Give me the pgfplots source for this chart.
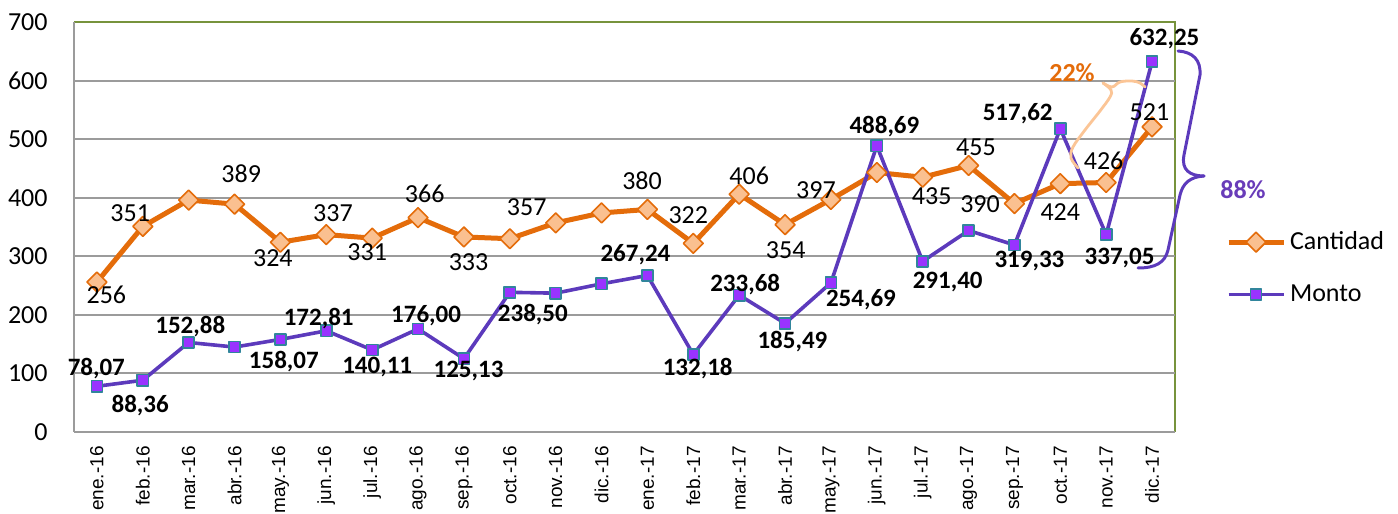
\documentclass[border=0pt]{standalone}
\usepackage{pgfplots}
\pgfplotsset{compat=1.18}
\usepackage{pgfplotstable}
\usepackage{fontspec}
\setmainfont{Carlito}
\newfontfamily\xfont{Liberation Sans}
\definecolor{corange}{HTML}{E46C0A}
\definecolor{clight}{HTML}{FAC090}
\definecolor{cbrace}{HTML}{FBC596}
\definecolor{cpurple}{RGB}{92,58,188}
\definecolor{cmfill}{HTML}{9933FF}
\definecolor{cteal}{HTML}{31859C}
\definecolor{cgrid}{RGB}{155,155,155}
\definecolor{cgreen}{HTML}{77933C}
\definecolor{cpct}{RGB}{105,60,185}

\pgfplotstableread{
x y lab dx dy
0 256 256 4.7 -6.5
1 351 351 -6.3 6.5
2 396 {} 0 0
3 389 389 3.3 15
4 324 324 -3.8 -7.8
5 337 337 3.3 10.8
6 331 331 -2.5 -7
7 366 366 3.3 11.8
8 333 333 2.3 -12.8
9 330 {} 0 0
10 357 357 -14.5 7.8
11 374 {} 0 0
12 380 380 -2.7 14.2
13 322 322 -2.5 14.2
14 406 406 5 9.2
15 354 354 0.3 -12.7
16 397 397 -7.5 4.7
17 443 {} 0 0
18 435 435 4.5 -9.7
19 455 455 3.7 9.2
20 390 390 -17.2 -0.3
21 424 424 0 -14.2
22 426 426 -1.3 10.8
23 521 521 -1.3 7.5
}\cantidad

\pgfplotstableread{
x y lab dx dy
0 78.07 78,07 -0.3 8.7
1 88.36 88,36 -1.3 -12.8
2 152.88 152,88 0.8 7.8
3 145 {} 0 0
4 158.07 158,07 1.7 -11.2
5 172.81 172,81 -3.8 6.2
6 140.11 140,11 2.5 -8.3
7 176.00 176,00 4 6.5
8 125.13 125,13 2.3 -6.3
9 238.50 238,50 11.5 -11
10 237 {} 0 0
11 253 {} 0 0
12 267.24 267,24 -6 10.3
13 132.18 132,18 2.2 -7
14 233.68 233,68 3 5.5
15 185.49 185,49 3.7 -9.3
16 254.69 254,69 15 -8.3
17 488.69 488,69 3.8 9.7
18 291.40 291,40 12.5 -10.5
19 344 {} 0 0
20 319.33 319,33 7.5 -8
21 517.62 517,62 -21.3 7.5
22 337.05 337,05 6.7 -11.7
23 632.25 632,25 6.2 11.5
}\monto

\begin{document}
\begin{tikzpicture}
\begin{scope}[x=0.5pt,y=-0.5pt,shift={(-37pt,216pt)}]
\path[use as bounding box] (0,0) rectangle (1398,512);
\draw[cgreen, line width=0.9pt] (74,22) -- (1175,22) -- (1175,432);
\end{scope}
\begin{axis}[
  at={(0,0)}, anchor=south west,
  scale only axis, width=550.5pt, height=205pt,
  xmin=-0.5, xmax=23.5, ymin=0, ymax=700,
  axis x line*=bottom, axis y line*=left,
  axis line style={-, draw=cgrid, line width=1pt},
  ytick={0,100,...,600}, extra y ticks={700}, extra y tick style={grid=none},
  ymajorgrids, grid style={draw=cgrid, line width=1pt},
  major tick length=0pt,
  xtick={0,...,23},
  xticklabels={ene.-16,feb.-16,mar.-16,abr.-16,may.-16,jun.-16,jul.-16,ago.-16,sep.-16,oct.-16,nov.-16,dic.-16,ene.-17,feb.-17,mar.-17,abr.-17,may.-17,jun.-17,jul.-17,ago.-17,sep.-17,oct.-17,nov.-17,dic.-17},
  xticklabel style={font=\xfont\fontsize{9.5}{11}\selectfont, yshift=-7pt, rotate=90, anchor=east, inner sep=0pt},
  yticklabel style={font=\fontsize{13}{15}\selectfont, anchor=east, inner sep=0pt, xshift=-13pt},
  /pgf/number format/assume math mode=true,
  clip=false,
  legend cell align=left,
  legend style={at={(axis description cs:1.046,0.40)}, anchor=west, draw=none, fill=none, inner sep=0pt, row sep=12pt, font=\fontsize{13}{15}\selectfont, nodes={inner sep=2pt}},
  legend image code/.code={\draw[mark repeat=2,mark phase=2,#1] plot coordinates {(0pt,0pt) (13.75pt,0pt) (27.5pt,0pt)};},
]
\addplot[color=corange, line width=2.5pt, line join=round,
  mark=square*, mark size=3.5pt, mark options={rotate=45, fill=clight, draw=corange, line width=0.8pt},
  point meta=explicit symbolic, nodes near coords,
  visualization depends on={\thisrow{dx}\as\dx},
  visualization depends on={\thisrow{dy}\as\dy},
  every node near coord/.append style={anchor=center, inner sep=0pt, xshift=\dx*1pt, yshift=\dy*1pt, font=\fontsize{13}{15}\selectfont, text=black},
] table[x=x, y=y, meta=lab] {\cantidad};
\addlegendentry{Cantidad}
\addplot[color=cpurple, line width=1.8pt, line join=round,
  mark=square*, mark size=2.8pt, mark options={fill=cmfill, draw=cteal, line width=0.8pt},
  point meta=explicit symbolic, nodes near coords,
  visualization depends on={\thisrow{dx}\as\dx},
  visualization depends on={\thisrow{dy}\as\dy},
  every node near coord/.append style={anchor=center, inner sep=0pt, xshift=\dx*1pt, yshift=\dy*1pt, font=\bfseries\fontsize{12.5}{15}\selectfont, text=black},
] table[x=x, y=y, meta=lab] {\monto};
\addlegendentry{Monto}
\end{axis}
\begin{scope}[x=0.5pt,y=-0.5pt,shift={(-37pt,216pt)}]
\draw[cpurple, line width=1.5pt, line cap=round] (1178,51) .. controls (1193,52) and (1201,60) .. (1200,75) -- (1184,155) .. controls (1181,170) and (1190,176) .. (1204,176);
\draw[cpurple, line width=1.5pt, line cap=round] (1204,176) .. controls (1190,177) and (1183,183) .. (1180,195) -- (1168,250) .. controls (1165,263) and (1155,268) .. (1138,268);
\draw[cbrace, line width=1.4pt, line cap=round] plot[smooth, tension=0.6] coordinates {(1078,168) (1071,158) (1073,147) (1085,130) (1100,111) (1110,97) (1111,90) (1103,83)};
\draw[cbrace, line width=1.4pt, line cap=round] plot[smooth, tension=0.6] coordinates {(1103,83) (1112,87) (1120,82) (1132,81) (1140,83) (1145,87)};
\node[text=corange, font=\bfseries\fontsize{13}{15}\selectfont] at (1072,73) {22\%};
\node[text=cpct, font=\bfseries\fontsize{13}{15}\selectfont] at (1243,190) {88\%};
\end{scope}
\end{tikzpicture}
\end{document}
